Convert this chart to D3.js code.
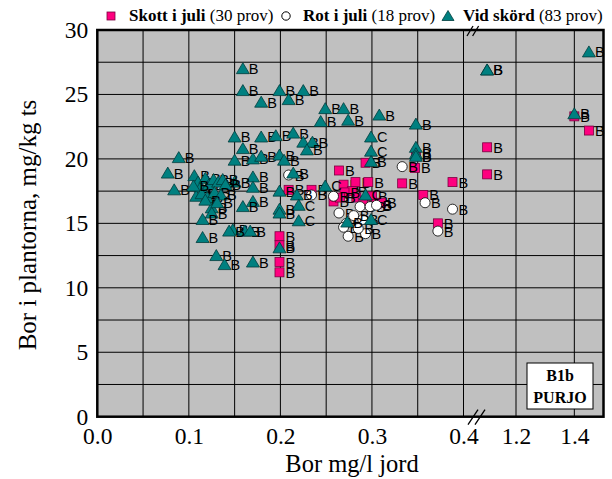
<!DOCTYPE html>
<html><head><meta charset="utf-8">
<script src="https://cdn.jsdelivr.net/npm/d3@7"></script>
<style>body{margin:0;background:#fff}svg{display:block}</style>
</head><body><svg id="c" width="612" height="479"></svg>
<script>
// ---- data ----
const xTickValues = [0, 0.1, 0.2, 0.3, 0.4, 1.2, 1.4];
const xTickLabels = ["0.0", "0.1", "0.2", "0.3", "0.4", "1.2", "1.4"];
const xGridValues = [0.05, 0.1, 0.15, 0.2, 0.25, 0.3, 0.35, 0.4, 1.2, 1.4];
const yTickValues = [0, 5, 10, 15, 20, 25, 30];
const yGridValues = [2.5, 5, 7.5, 10, 12.5, 15, 17.5, 20, 22.5, 25, 27.5];
const legendNames = ["Skott i juli", "Rot i juli", "Vid skörd"];
const legendCounts = ["(30 prov)", "(18 prov)", "(83 prov)"];

// Skott i juli (squares)
const skottX = [0.199,0.199,0.199,0.199,0.209,0.234,0.264,0.258,0.269,0.282,0.296,0.293,0.278,0.283,0.290,0.270,0.300,0.305,0.310,0.333,0.347,0.356,0.372,0.388,0.76,0.76,1.40,1.45,0.348,0.265];
const skottY = [14.0,13.3,12.0,11.2,17.6,17.6,19.1,16.7,18.0,18.2,18.2,19.7,17.5,17.0,16.6,17.4,17.1,16.5,16.6,18.1,19.3,17.2,15.0,18.2,20.9,18.8,23.3,22.2,20.2,17.0];
const skottL = ["B","B","B","B","B","B","B","B","B","B","B","B","B","B","B","B","B","B","B","B","B","B","B","B","B","B","B","B","B","B"];

// Rot i juli (circles)
const rotX = [0.209,0.234,0.258,0.264,0.287,0.298,0.272,0.274,0.293,0.269,0.285,0.290,0.333,0.358,0.388,0.372,0.305,0.280];
const rotY = [18.75,17.2,17.1,15.8,16.3,16.3,15.0,14.0,14.2,14.7,14.6,15.3,19.4,16.6,16.1,14.4,16.4,15.6];
const rotL = ["B","B","B","B","B","B","B","B","B","B","B","B","B","B","B","B","B","B"];

// Vid skörd (triangles)
const vidX = [0.159,0.159,0.179,0.199,0.225,0.209,0.249,0.269,0.308,0.244,0.274,0.348,0.150,0.179,0.195,0.214,0.225,0.235,0.229,0.159,
  0.150,0.170,0.179,0.199,0.204,0.299,0.299,0.299,0.348,0.348,0.348,0.214,0.170,0.170,0.150,0.199,0.218,0.249,0.220,0.199,
  0.199,0.170,0.159,0.220,0.293,0.273,0.299,0.148,0.161,0.167,0.199,0.170,0.077,0.084,0.089,0.125,0.125,0.115,0.144,0.115,
  0.130,0.139,0.76,0.76,1.40,1.45,0.106,0.110,0.113,0.118,0.122,0.127,0.132,0.137,0.140,0.108,0.114,0.120,0.128,0.135,
  0.118,0.131,0.105];
const vidY = [27.0,25.3,24.4,25.3,25.3,24.6,23.9,23.9,23.4,22.9,23.0,22.7,21.7,21.7,21.8,22.0,21.3,21.3,20.7,20.8,
  19.9,20.0,20.2,20.3,19.9,21.7,20.6,19.8,20.9,20.4,20.2,18.9,18.6,17.8,18.2,17.5,17.2,17.9,16.4,16.1,
  15.8,16.7,16.3,15.2,17.2,15.1,15.3,14.5,14.4,14.4,13.1,12.0,18.9,17.6,20.1,16.2,15.8,15.3,14.4,13.9,
  12.5,11.8,26.9,26.9,23.5,28.3,18.7,18.2,17.8,18.5,18.0,18.4,18.2,18.4,18.0,17.1,17.3,17.0,17.4,17.2,
  16.8,16.6,17.9];
const vidL = ["B","B","B","B","B","B","B","B","B","B","B","B","B","B","B","B","B","B","B","B",
  "B","B","B","B","B","C","C","B","B","B","B","B","B","B","B","B","B","C","C","B",
  "B","B","B","C","C","B","C","B","B","B","B","B","B","B","B","B","B","B","B","B",
  "B","B","B","B","B","B","B","B","B","B","B","B","B","B","B","B","B","B","B","B",
  "B","B","B"];

// ---- chart ----
const svg = d3.select("#c");
const L = 97.3, R = 603.5, T = 30, B = 416.7;
const x = d3.scaleLinear().domain([0, 0.4, 1.2, 1.5]).range([L, 463.5, 516, R]);
const y = d3.scaleLinear().domain([0, 30]).range([B, T]);

svg.append("rect").attr("x", L).attr("y", T).attr("width", R - L).attr("height", B - T).attr("fill", "#c0c0c0");

const g = svg.append("g");
g.selectAll(".vg").data(xGridValues).join("line")
  .attr("x1", d => x(d)).attr("x2", d => x(d)).attr("y1", T).attr("y2", B)
  .attr("stroke", "#000").attr("stroke-width", 1);
g.selectAll(".hg").data(yGridValues).join("line")
  .attr("x1", L).attr("x2", R).attr("y1", d => y(d)).attr("y2", d => y(d))
  .attr("stroke", "#000").attr("stroke-width", 1);

// axes
const xAxis = d3.axisBottom(x).tickValues(xTickValues).tickFormat((d, i) => xTickLabels[i]).tickSize(0).tickPadding(11);
const ax = svg.append("g").attr("transform", `translate(0,${B})`).call(xAxis);
ax.select(".domain").remove();
ax.selectAll("text").attr("font-family", "Liberation Serif").attr("font-size", 23.5).attr("fill", "#000");

const yAxis = d3.axisLeft(y).tickValues(yTickValues).tickSize(0).tickPadding(9);
const ay = svg.append("g").attr("transform", `translate(${L},0)`).call(yAxis);
ay.select(".domain").remove();
ay.selectAll("text").attr("font-family", "Liberation Serif").attr("font-size", 23.5).attr("fill", "#000");

svg.append("rect").attr("x", L).attr("y", T).attr("width", R - L).attr("height", B - T)
  .attr("fill", "none").attr("stroke", "#000").attr("stroke-width", 2.5);

// break marks
[0, 7].forEach(off => {
  svg.append("line").attr("x1", 468 + off).attr("y1", B + 8).attr("x2", 478 + off).attr("y2", B - 7)
    .attr("stroke", "#000").attr("stroke-width", 1.3);
  svg.append("line").attr("x1", 467 + off * 0.8).attr("y1", T + 6).attr("x2", 473 + off * 0.8).attr("y2", T - 4)
    .attr("stroke", "#000").attr("stroke-width", 1.3);
});

// markers
const triPath = "M-6.5,5L6.5,5L0,-6Z";
function labels(sel, xs, ys, ls) {
  sel.append("text").attr("x", (d, i) => x(xs[i]) + 6).attr("y", (d, i) => y(ys[i]) + 5.5)
    .attr("font-family", "Liberation Sans").attr("font-size", 14.5).attr("fill", "#000")
    .text((d, i) => ls[i]);
}
const sq = svg.append("g").selectAll("g").data(skottX).join("g");
sq.append("rect").attr("x", (d, i) => x(skottX[i]) - 4.5).attr("y", (d, i) => y(skottY[i]) - 4.5)
  .attr("width", 9).attr("height", 9).attr("fill", "#ff007f").attr("stroke", "#7a0040").attr("stroke-width", 0.8);
labels(sq, skottX, skottY, skottL);

const ci = svg.append("g").selectAll("g").data(rotX).join("g");
ci.append("circle").attr("cx", (d, i) => x(rotX[i])).attr("cy", (d, i) => y(rotY[i])).attr("r", 5)
  .attr("fill", "#fff").attr("stroke", "#000").attr("stroke-width", 0.8);
labels(ci, rotX, rotY, rotL);

const tr = svg.append("g").selectAll("g").data(vidX).join("g");
tr.append("path").attr("d", triPath)
  .attr("transform", (d, i) => `translate(${x(vidX[i])},${y(vidY[i])})`)
  .attr("fill", "#008080").attr("stroke", "#003c3c").attr("stroke-width", 0.8);
labels(tr, vidX, vidY, vidL);

// legend
const lg = svg.append("g").attr("font-family", "Liberation Serif").attr("font-size", 17);
lg.append("rect").attr("x", 107).attr("y", 12).attr("width", 8).attr("height", 8).attr("fill", "#ff007f").attr("stroke", "#7a0040").attr("stroke-width", 0.8);
lg.append("circle").attr("cx", 286).attr("cy", 16).attr("r", 4.2).attr("fill", "#fff").attr("stroke", "#000").attr("stroke-width", 1);
lg.append("path").attr("d", "M-6,4.5L6,4.5L0,-5.5Z").attr("transform", "translate(448,16)").attr("fill", "#008080").attr("stroke", "#003c3c").attr("stroke-width", 0.8);
const lx = [129, 303, 463];
legendNames.forEach((n, i) => {
  const t = lg.append("text").attr("x", lx[i]).attr("y", 21);
  t.append("tspan").attr("font-weight", "bold").text(n);
  t.append("tspan").text(" " + legendCounts[i]);
});

// info box
svg.append("rect").attr("x", 527).attr("y", 363).attr("width", 66).attr("height", 46).attr("fill", "#fff").attr("stroke", "#000").attr("stroke-width", 1);
svg.append("text").attr("x", 560).attr("y", 381).attr("text-anchor", "middle").attr("font-family", "Liberation Serif").attr("font-weight", "bold").attr("font-size", 16).text("B1b");
svg.append("text").attr("x", 560).attr("y", 403).attr("text-anchor", "middle").attr("font-family", "Liberation Serif").attr("font-weight", "bold").attr("font-size", 16).text("PURJO");

// axis titles
svg.append("text").attr("x", 352).attr("y", 472).attr("text-anchor", "middle").attr("font-family", "Liberation Serif").attr("font-size", 24.5).text("Bor mg/l jord");
svg.append("text").attr("transform", "translate(36,225) rotate(-90)").attr("text-anchor", "middle").attr("font-family", "Liberation Serif").attr("font-size", 25).text("Bor i plantorna, mg/kg ts");
</script></body></html>
